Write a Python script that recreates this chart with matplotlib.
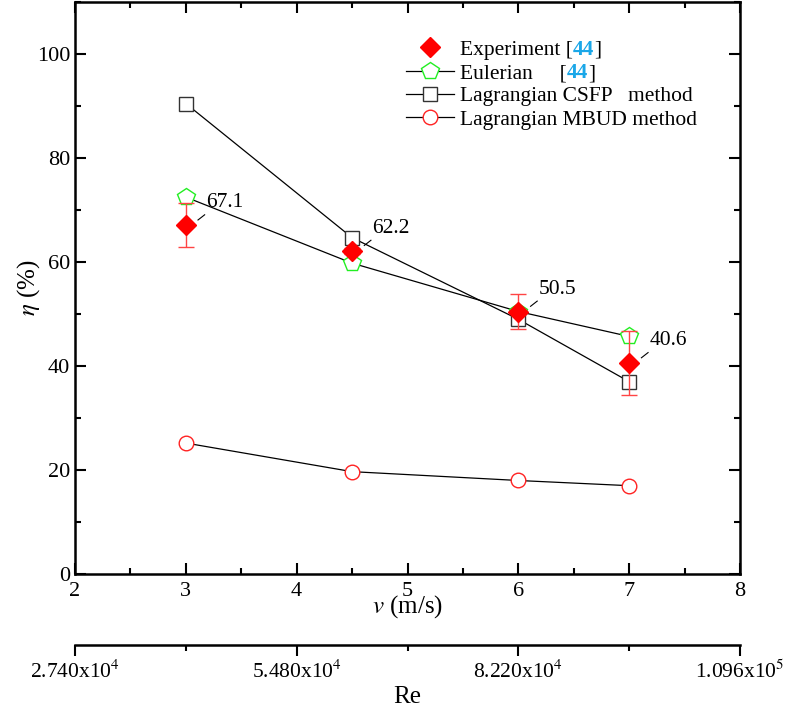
import numpy as np
import matplotlib.pyplot as plt
from matplotlib.ticker import MultipleLocator, FixedLocator

plt.rcParams['font.family'] = ['Liberation Serif', 'DejaVu Serif']
plt.rcParams['mathtext.fontset'] = 'stix'

v = [3, 4.5, 6, 7]
experiment = [67.1, 62.2, 50.5, 40.6]
exp_err = [4.2, 0.6, 3.3, 6.2]
eulerian = [72.5, 59.8, 50.5, 45.7]
csfp = [90.5, 64.7, 49.0, 37.0]
mbud = [25.2, 19.7, 18.0, 17.0]
labels = ['67.1', '62.2', '50.5', '40.6']

re_ticks = [2, 4, 6, 8]
re_labels = [r'2.740x10$^4$', r'5.480x10$^4$', r'8.220x10$^4$', r'1.096x10$^5$']

fig = plt.figure(figsize=(7.89, 7.07), dpi=100)
ax = fig.add_axes([0.095, 0.188, 0.843, 0.809])

ax.errorbar(v, experiment, yerr=exp_err, fmt='none', ecolor='#ff4444',
            elinewidth=1.0, capsize=6, capthick=1.0, zorder=4)
ax.plot(v, experiment, ls='none', marker='D', color='red', ms=10,
        label='Experiment [', zorder=5)
ax.plot(v, eulerian, color='black', lw=0.9, marker='p', ms=13, mfc='white',
        mec='#22ee22', mew=1.0, label='Eulerian     [', zorder=3)
ax.plot(v, csfp, color='black', lw=0.9, marker='s', ms=10, mfc='white',
        mec='#333333', mew=1.0, label='Lagrangian CSFP   method', zorder=3)
ax.plot(v, mbud, color='black', lw=0.9, marker='o', ms=10.5, mfc='white',
        mec='#ff2222', mew=1.0, label='Lagrangian MBUD method', zorder=3)

for x, y, t in zip(v, experiment, labels):
    ax.plot([x + 0.11, x + 0.17], [y + 1.0, y + 2.0], color='black', lw=0.8)
    ax.text(x + 0.18, y + 4.3, t, fontsize=15.5, ha='left', va='center')

ax.set_xlim(2, 8)
ax.set_ylim(0, 110)
ax.xaxis.set_major_locator(MultipleLocator(1))
ax.xaxis.set_minor_locator(MultipleLocator(0.5))
ax.yaxis.set_major_locator(FixedLocator([0, 20, 40, 60, 80, 100]))
ax.yaxis.set_minor_locator(MultipleLocator(10))
ax.tick_params(which='both', direction='in', top=True, right=True,
               labeltop=False, labelright=False, width=1.5, labelsize=16)
ax.tick_params(which='major', length=8)
ax.tick_params(which='minor', length=4)
ax.tick_params(axis='x', pad=6)
for s in ax.spines.values():
    s.set_linewidth(1.8)

ax.set_xlabel(r'$\mathit{v}$ (m/s)', fontsize=18, labelpad=-6)
ax.set_ylabel(r'$\mathit{\eta}$ (%)', fontsize=18, labelpad=-4)

# Reynolds number axis below
sec = ax.secondary_xaxis('bottom')
sec.spines['bottom'].set_position(('outward', 51))
sec.spines['bottom'].set_linewidth(1.8)
sec.xaxis.set_major_locator(FixedLocator(re_ticks))
sec.xaxis.set_minor_locator(FixedLocator([3, 5, 7]))
sec.set_xticklabels(re_labels)
sec.tick_params(which='both', direction='out', width=1.5, labelsize=15.5)
sec.tick_params(which='major', length=8)
sec.tick_params(which='minor', length=4)
sec.set_xlabel('Re', fontsize=18, labelpad=2)

leg = ax.legend(loc='upper left', bbox_to_anchor=(0.469, 0.968), frameon=False,
                fontsize=15.5, handlelength=2.2, handletextpad=0.3,
                labelspacing=0.15)
for t in leg.get_texts()[:2]:
    a = ax.annotate('44', xy=(1, 0), xycoords=t, color='#1aa7e8', fontsize=15.5,
                    fontweight='bold', ha='left', va='bottom', zorder=10)
    ax.annotate(']', xy=(1, 0), xycoords=a, fontsize=15.5, ha='left',
                va='bottom', zorder=11)

fig.savefig('out.png', dpi=100)
